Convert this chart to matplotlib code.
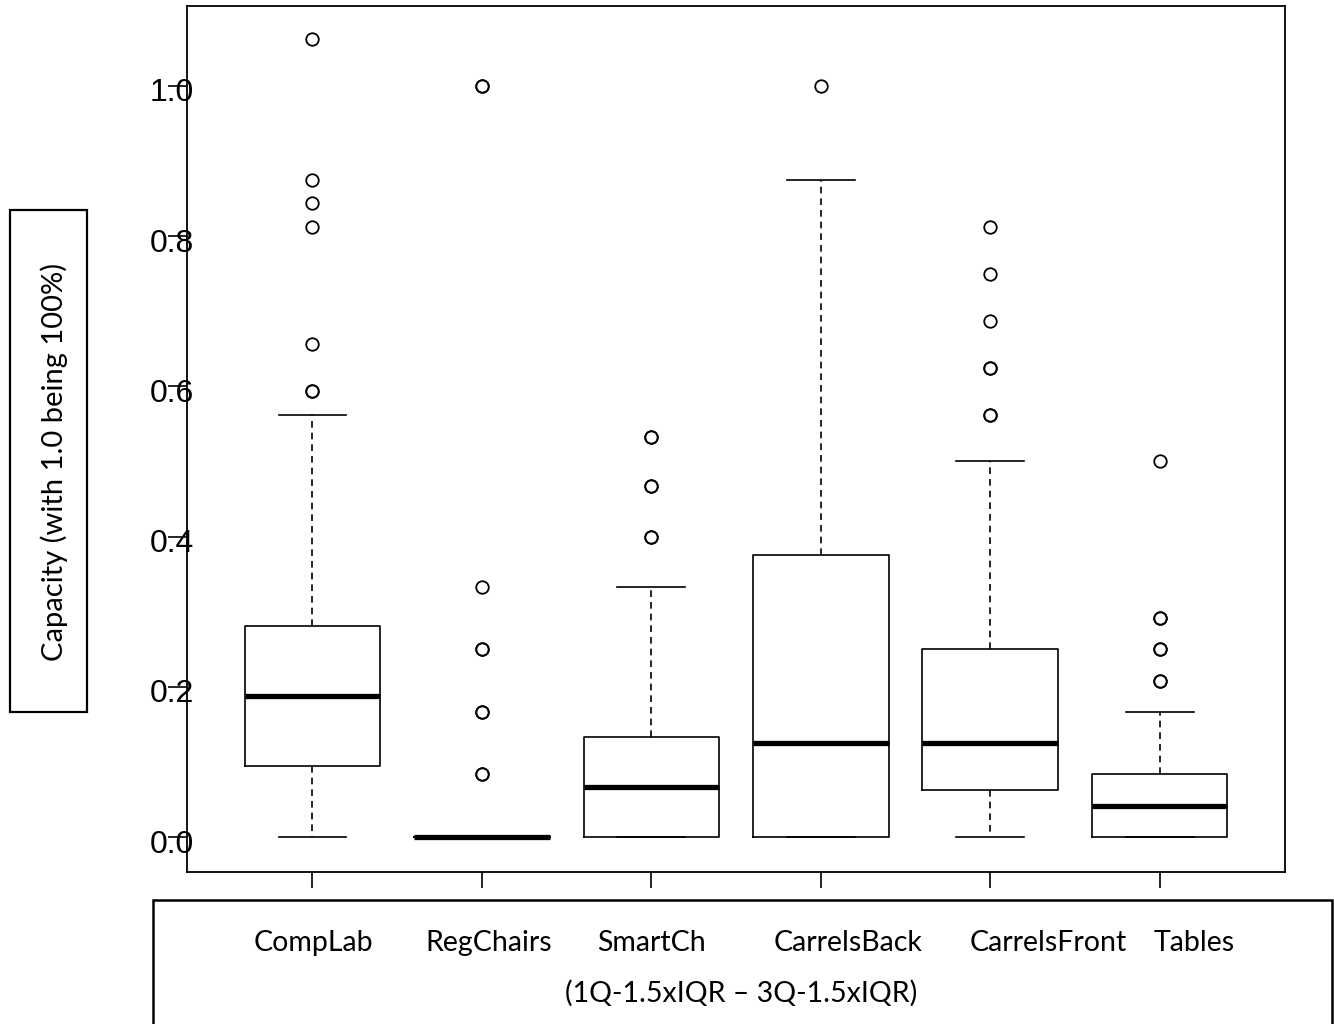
import matplotlib
matplotlib.use("Agg")
import matplotlib.pyplot as plt
import matplotlib.transforms as mtransforms
from matplotlib.patches import Rectangle

# ---- data (capacity fractions) ----
categories = ["CompLab", "RegChairs", "SmartCh", "CarrelsBack", "CarrelsFront", "Tables"]
whislo = [0.0, 0.0, 0.0, 0.0, 0.0, 0.0]
q1 = [0.094, 0.0, 0.0, 0.0, 0.0625, 0.0]
median = [0.1875, 0.0, 0.0667, 0.125, 0.125, 0.0417]
q3 = [0.281, 0.0, 0.133, 0.375, 0.25, 0.0833]
whishi = [0.5625, 0.0, 0.333, 0.875, 0.5, 0.1667]
fliers = [
    [0.594, 0.594, 0.656, 0.8125, 0.844, 0.875, 1.0625],
    [0.0833, 0.0833, 0.1667, 0.1667, 0.25, 0.25, 0.333, 1.0, 1.0],
    [0.4, 0.4, 0.467, 0.467, 0.533, 0.533],
    [1.0],
    [0.5625, 0.5625, 0.625, 0.625, 0.6875, 0.75, 0.8125],
    [0.2083, 0.2083, 0.25, 0.25, 0.2917, 0.2917, 0.5],
]
yticks = [0.0, 0.2, 0.4, 0.6, 0.8, 1.0]
ytick_labels = ["0.0", "0.2", "0.4", "0.6", "0.8", "1.0"]
y_title = "Capacity (with 1.0 being 100%)"
x_note = "(1Q-1.5xIQR \u2013 3Q-1.5xIQR)"

# ---- layout ----
W, H = 1334, 1024
fig = plt.figure(figsize=(W / 100, H / 100), dpi=100)
ax = fig.add_axes([187 / W, 1 - 872 / H, (1285 - 187) / W, (872 - 6) / H])

stats = []
for i, c in enumerate(categories):
    stats.append(dict(label=c, whislo=whislo[i], q1=q1[i], med=median[i],
                      q3=q3[i], whishi=whishi[i], fliers=fliers[i]))

positions = list(range(1, len(categories) + 1))
ax.bxp(stats, positions=positions, widths=0.8, showfliers=True,
       boxprops=dict(color="black", linewidth=1.2),
       medianprops=dict(color="black", linewidth=3.8, solid_capstyle="butt"),
       whiskerprops=dict(color="black", linewidth=1.2, linestyle=(0, (4, 3))),
       capprops=dict(color="black", linewidth=1.2),
       flierprops=dict(marker="o", markerfacecolor="none", markeredgecolor="black",
                       markersize=9, markeredgewidth=1.3))

ax.set_xlim(0.26, 6.74)
ax.set_ylim(-0.0466, 1.1065)
ax.set_xticks(positions)
ax.set_xticklabels([])
ax.set_yticks(yticks)
ax.set_yticklabels(ytick_labels, fontfamily="Liberation Sans", fontsize=23)
ax.tick_params(axis="y", length=13.7, width=1.2, pad=-18.5, direction="out")
ax.tick_params(axis="x", length=11.5, width=1.2, direction="out")
for sp in ax.spines.values():
    sp.set_linewidth(1.3)
shift = mtransforms.ScaledTranslation(0, -4 / 100, fig.dpi_scale_trans)
for lbl in ax.get_yticklabels():
    lbl.set_zorder(5)
    lbl.set_transform(lbl.get_transform() + shift)

# y title box
fig.patches.append(Rectangle((10 / W, 1 - 712 / H), 77 / W, 502 / H,
                             transform=fig.transFigure, fill=False,
                             edgecolor="black", linewidth=1.6))
fig.text(54 / W, 1 - 462 / H, y_title, rotation=90, ha="center", va="center",
         fontfamily="Lato", fontsize=21)

# bottom label box
fig.patches.append(Rectangle((153 / W, -0.05), (1332 - 153) / W, 0.05 + 124 / H,
                             transform=fig.transFigure, fill=False,
                             edgecolor="black", linewidth=1.8))
label_x = [313, 489, 651, 848, 1048, 1194]
for c, xp in zip(categories, label_x):
    fig.text(xp / W, 1 - 943 / H, c, ha="center", va="center",
             fontfamily="Lato", fontsize=20.5)
fig.text(741 / W, 1 - 993 / H, x_note, ha="center", va="center",
         fontfamily="Lato", fontsize=20.5)

fig.savefig("out.png", dpi=100)
